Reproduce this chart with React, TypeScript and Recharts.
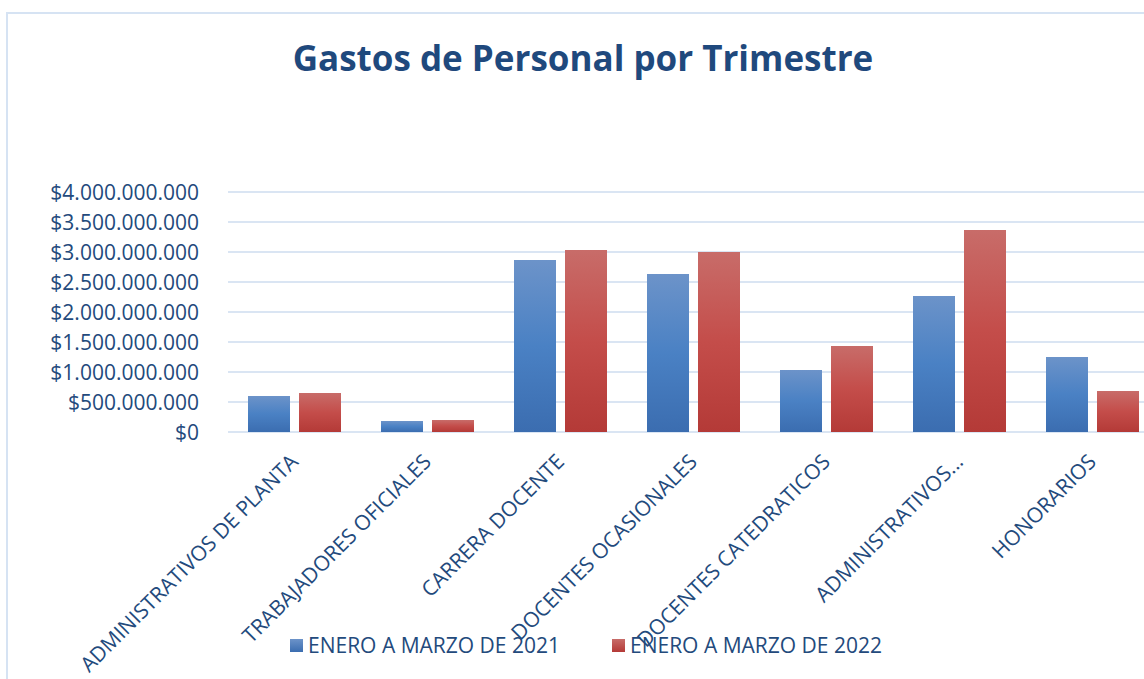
import React from 'react';
import { BarChart, Bar, XAxis, YAxis, CartesianGrid } from 'recharts';

const CATEGORIES = [
  'ADMINISTRATIVOS DE PLANTA',
  'TRABAJADORES OFICIALES',
  'CARRERA DOCENTE',
  'DOCENTES OCASIONALES',
  'DOCENTES CATEDRATICOS',
  'ADMINISTRATIVOS...',
  'HONORARIOS',
];
const GASTOS_2021 = [600000000, 183000000, 2867000000, 2633000000, 1033000000, 2267000000, 1250000000];
const GASTOS_2022 = [650000000, 200000000, 3033000000, 3000000000, 1433000000, 3367000000, 683000000];
const SERIES_NAMES = ['ENERO A MARZO DE 2021', 'ENERO A MARZO DE 2022'];
const Y_TICKS = [0, 500000000, 1000000000, 1500000000, 2000000000, 2500000000, 3000000000, 3500000000, 4000000000];

const DATA = CATEGORIES.map((name, i) => ({ name, q2021: GASTOS_2021[i], q2022: GASTOS_2022[i] }));

const FONT = "'Open Sans', sans-serif";
const TEXT_COLOR = '#234a7c';

const money = (v: number) => '$' + String(v).replace(/\B(?=(\d{3})+(?!\d))/g, '.');

const ValueTick = (props: any) => {
  const { x, y, payload } = props;
  return (
    <text x={x} y={y} dy="0.36em" textAnchor="end" fill={TEXT_COLOR} fontSize={21} fontFamily={FONT}>
      {money(payload.value)}
    </text>
  );
};

const CategoryTick = (props: any) => {
  const { x, payload } = props;
  const ax = x + 5;
  const ay = 463;
  return (
    <text x={ax} y={ay} transform={`rotate(-45, ${ax}, ${ay})`} textAnchor="end" fill={TEXT_COLOR} fontSize={21} fontFamily={FONT}>
      {payload.value}
    </text>
  );
};

const Swatch = ({ top, bottom }: { top: string; bottom: string }) => (
  <span style={{ display: 'inline-block', width: 13, height: 13, background: `linear-gradient(${top}, ${bottom})`, marginRight: 5 }} />
);

export default function App() {
  return (
    <div style={{ position: 'absolute', left: 0, top: 0, width: 1144, height: 679, overflow: 'hidden', background: '#fff', fontFamily: FONT }}>
      {/* chart frame */}
      <div style={{ position: 'absolute', left: 6, top: 12, right: -4, bottom: -4, borderLeft: '2px solid #d6e3f3', borderTop: '2px solid #d6e3f3', background: '#fff' }} />

      <div style={{ position: 'absolute', left: 0, top: 34, width: 1166, textAlign: 'center', fontSize: 35, fontWeight: 700, color: '#1f497d' }}>
        Gastos de Personal por Trimestre
      </div>

      <div style={{ position: 'absolute', left: 0, top: 0 }}>
        <BarChart width={1180} height={679} data={DATA} margin={{ top: 192, right: 21, bottom: 0, left: 0 }} barSize={42} barGap={9}>
          <defs>
            <linearGradient id="g2021" x1="0" y1="0" x2="0" y2="1">
              <stop offset="0%" stopColor="#6c93c9" />
              <stop offset="50%" stopColor="#4a81c4" />
              <stop offset="100%" stopColor="#3b6db0" />
            </linearGradient>
            <linearGradient id="g2022" x1="0" y1="0" x2="0" y2="1">
              <stop offset="0%" stopColor="#c86c69" />
              <stop offset="50%" stopColor="#c44d4a" />
              <stop offset="100%" stopColor="#b43a37" />
            </linearGradient>
          </defs>
          <CartesianGrid vertical={false} stroke="#dae5f3" strokeWidth={2} />
          <XAxis dataKey="name" height={247} axisLine={false} tickLine={false} interval={0} tick={<CategoryTick />} />
          <YAxis
            width={228}
            domain={[0, 4000000000]}
            ticks={Y_TICKS}
            axisLine={false}
            tickLine={false}
            tickSize={0}
            tickMargin={29}
            tick={<ValueTick />}
          />
          <Bar dataKey="q2021" name={SERIES_NAMES[0]} fill="url(#g2021)" isAnimationActive={false} />
          <Bar dataKey="q2022" name={SERIES_NAMES[1]} fill="url(#g2022)" isAnimationActive={false} />
        </BarChart>
      </div>

      <div style={{ position: 'absolute', left: 290, top: 631, display: 'flex', alignItems: 'center', fontSize: 21, color: TEXT_COLOR, whiteSpace: 'nowrap' }}>
        <Swatch top="#6c93c9" bottom="#3b6db0" />
        <span style={{ width: 304 }}>{SERIES_NAMES[0]}</span>
        <Swatch top="#c86c69" bottom="#b43a37" />
        <span>{SERIES_NAMES[1]}</span>
      </div>
    </div>
  );
}
